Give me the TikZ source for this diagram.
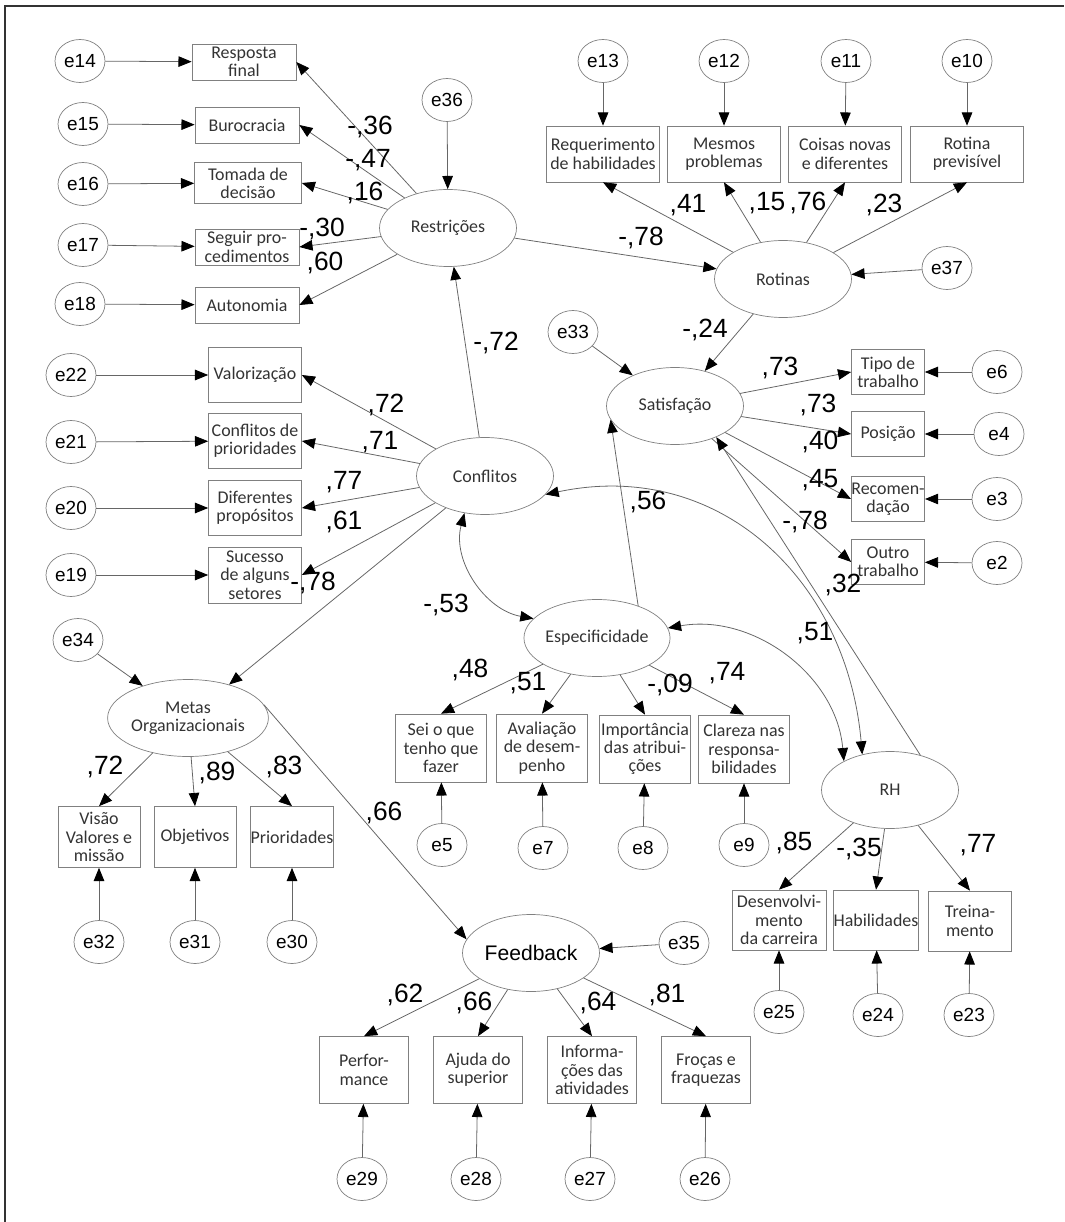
\documentclass[tikz,border=0pt]{standalone}
\usepackage{fontspec}
\usetikzlibrary{shapes.geometric,arrows.meta}
\newfontfamily\carlfont{Carlito}
\newfontfamily\arialfont{Liberation Sans}
\newcommand{\obsfont}{\carlfont\fontsize{10.2}{10.4}\selectfont}
\newcommand{\errfont}{\arialfont\fontsize{10.8}{12}\selectfont}
\newcommand{\coeffont}{\arialfont\fontsize{15}{17}\selectfont}
\newcommand{\fbfont}{\arialfont\fontsize{12}{14}\selectfont}
\definecolor{linegray}{gray}{0.4}
\definecolor{bordergray}{gray}{0.5}
\definecolor{textgray}{gray}{0.2}
\begin{document}
\begin{tikzpicture}[x=0.02cm,y=-0.02cm,
  err/.style={ellipse,draw=bordergray,minimum width=1cm,minimum height=0.86cm,inner sep=0pt,font=\errfont},
  lat/.style={ellipse,draw=bordergray,minimum width=2.74cm,minimum height=1.54cm,inner sep=0pt,align=center,font=\obsfont,text=textgray},
  obs/.style={rectangle,draw=bordergray,inner sep=0pt,align=center,font=\obsfont,text=textgray},
  restrbox/.style={obs,minimum width=2.08cm,minimum height=0.72cm},
  rotbox/.style={obs,minimum width=2.26cm,minimum height=1.12cm},
  confbox/.style={obs,minimum width=1.86cm,minimum height=1.1cm},
  satbox/.style={obs,minimum width=1.46cm,minimum height=0.9cm},
  espbox/.style={obs,minimum width=1.82cm,minimum height=1.36cm},
  metbox/.style={obs,minimum width=1.64cm,minimum height=1.22cm},
  fbbox/.style={obs,minimum width=1.78cm,minimum height=1.34cm},
  rhbox/.style={obs,minimum height=1.2cm},
  reg/.style={draw=linegray,line width=0.45pt,-{Triangle[length=7.5pt,width=6pt,color=black]}},
  cov/.style={draw=linegray,line width=0.45pt,{Triangle[length=7.5pt,width=6pt,color=black]}-{Triangle[length=7.5pt,width=6pt,color=black]}},
  coef/.style={font=\coeffont,inner sep=0pt}]
\useasboundingbox (0,0) rectangle (1064,1222);
\draw[black!80,line width=0.7pt] (5,1222) -- (5,6) -- (1064,6);

%restricoes
        \node[err] (e14) at (80,61) {e14};
        \node[err] (e15) at (83,124) {e15};
        \node[err] (e16) at (83,184) {e16};
        \node[err] (e17) at (83,245) {e17};
        \node[err] (e18) at (80,304) {e18};
        \node[restrbox] (resp) at (244,62) {Resposta\\final};
        \node[restrbox] (buro) at (247,125) {Burocracia};
        \node[restrbox,minimum width=2.14cm,minimum height=0.82cm] (toma) at (248,183) {Tomada de\\decisão};
        \node[restrbox] (segu) at (247,247) {Seguir pro-\\cedimentos};
        \node[restrbox] (auto) at (247,305) {Autonomia};
        \node[err] (e36) at (447,100) {e36};
        \node[lat] (restr) at (448,228) {Restrições};
        \draw [reg] (e14) -- (resp);
        \draw [reg] (e15) -- (buro);
        \draw [reg] (e16) -- (toma);
        \draw [reg] (e17) -- (segu);
        \draw [reg] (e18) -- (auto);
        \draw [reg] (restr) -- (resp.east);
        \draw [reg] (restr) -- (buro.east);
        \draw [reg] (restr) -- (toma.east);
        \draw [reg] (restr) -- (segu.east);
        \draw [reg] (restr) -- (auto.east);
        \draw [reg] (e36) -- (restr);
        \node[coef] at (370,127) {-,36};
        \node[coef] at (368,160) {-,47};
        \node[coef] at (365,193) {,16};
        \node[coef] at (322,229) {-,30};
        \node[coef] at (325,263) {,60};

%rotinas
        \node[err] (e13) at (603,61) {e13};
        \node[err] (e12) at (724,61) {e12};
        \node[err] (e11) at (846,61) {e11};
        \node[err] (e10) at (967,61) {e10};
        \node[rotbox] (requ) at (603,154) {Requerimento\\de habilidades};
        \node[rotbox] (mesm) at (724,154) {Mesmos\\problemas};
        \node[rotbox] (cois) at (845,154) {Coisas novas\\e diferentes};
        \node[rotbox] (prev) at (967,154) {Rotina\\previsível};
        \node[lat] (rot) at (783,279) {Rotinas};
        \node[err] (e37) at (947,268) {e37};
        \draw [reg] (e13) -- (requ);
        \draw [reg] (e12) -- (mesm);
        \draw [reg] (e11) -- (cois);
        \draw [reg] (e10) -- (prev);
        \draw [reg] (rot) -- (requ.south);
        \draw [reg] (rot) -- (mesm.south);
        \draw [reg] (rot) -- (cois.south);
        \draw [reg] (rot) -- (prev.south);
        \draw [reg] (e37) -- (rot);
        \draw [reg] (restr) -- (rot);
        \node[coef] at (688,205) {,41};
        \node[coef] at (767,203) {,15};
        \node[coef] at (808,203) {,76};
        \node[coef] at (884,205) {,23};
        \node[coef] at (641,238) {-,78};

%conflitos
        \node[err] (e22) at (71,375) {e22};
        \node[err] (e21) at (71,442) {e21};
        \node[err] (e20) at (71,508) {e20};
        \node[err] (e19) at (71,575) {e19};
        \node[confbox] (valo) at (255,375) {Valorização};
        \node[confbox] (cpri) at (255,441) {Conflitos de\\prioridades};
        \node[confbox] (dife) at (255,508) {Diferentes\\propósitos};
        \node[confbox,minimum height=1.12cm] (suce) at (255,575) {Sucesso\\de alguns\\setores};
        \node[lat] (conf) at (485,476) {Conflitos};
        \draw [reg] (e22) -- (valo);
        \draw [reg] (e21) -- (cpri);
        \draw [reg] (e20) -- (dife);
        \draw [reg] (e19) -- (suce);
        \draw [reg] (conf) -- (valo.east);
        \draw [reg] (conf) -- (cpri.east);
        \draw [reg] (conf) -- (dife.east);
        \draw [reg] (conf) -- (suce.east);
        \draw [reg] (conf) -- (restr);
        \node[coef] at (496,343) {-,72};
        \node[coef] at (386,405) {,72};
        \node[coef] at (380,442) {,71};
        \node[coef] at (344,482) {,77};
        \node[coef] at (344,522) {,61};
        \node[coef] at (313,583) {-,78};

%satisfacao
        \node[err] (e33) at (573,332) {e33};
        \node[lat] (sat) at (675,406) {Satisfação};
        \node[satbox] (tipo) at (888,372) {Tipo de\\trabalho};
        \node[satbox] (posi) at (888,434) {Posição};
        \node[satbox] (reco) at (888,499) {Recomen-\\dação};
        \node[satbox] (outr) at (888,562) {Outro\\trabalho};
        \node[err] (e6) at (997,372) {e6};
        \node[err] (e4) at (999,434) {e4};
        \node[err] (e3) at (997,499) {e3};
        \node[err] (e2) at (997,563) {e2};
        \draw [reg] (rot) -- (sat);
        \draw [reg] (e33) -- (sat);
        \draw [reg] (sat) -- (tipo.west);
        \draw [reg] (sat) -- (posi.west);
        \draw [reg] (sat) -- (reco.west);
        \draw [reg] (sat) -- (outr.west);
        \draw [reg] (e6) -- (tipo);
        \draw [reg] (e4) -- (posi);
        \draw [reg] (e3) -- (reco);
        \draw [reg] (e2) -- (outr);
        \node[coef] at (705,330) {-,24};
        \node[coef] at (780,368) {,73};
        \node[coef] at (818,405) {,73};
        \node[coef] at (820,442) {,40};
        \node[coef] at (820,480) {,45};
        \node[coef] at (805,522) {-,78};

%especificidade
        \node[lat] (esp) at (597,638) {Especificidade};
        \node[espbox] (sei) at (441,748) {Sei o que\\tenho que\\fazer};
        \node[espbox] (aval) at (542,748) {Avaliação\\de desem-\\penho};
        \node[espbox] (impo) at (645,749) {Importância\\das atribui-\\ções};
        \node[espbox] (clar) at (744,749) {Clareza nas\\responsa-\\bilidades};
        \node[err] (e5) at (442,845) {e5};
        \node[err] (e7) at (543,848) {e7};
        \node[err] (e8) at (643,848) {e8};
        \node[err] (e9) at (744,845) {e9};
        \draw [reg] (esp) -- (sei.north);
        \draw [reg] (esp) -- (aval.north);
        \draw [reg] (esp) -- (impo.north);
        \draw [reg] (esp) -- (clar.north);
        \draw [reg] (e5) -- (sei);
        \draw [reg] (e7) -- (aval);
        \draw [reg] (e8) -- (impo);
        \draw [reg] (e9) -- (clar);
        \draw [reg] (esp.38) -- (sat.192);
        \node[coef] at (648,502) {,56};
        \node[coef] at (470,670) {,48};
        \node[coef] at (528,683) {,51};
        \node[coef] at (670,685) {-,09};
        \node[coef] at (727,673) {,74};

%rh
        \node[lat] (rh) at (890,790) {RH};
        \node[rhbox,minimum width=1.88cm] (desv) at (779,920) {Desenvolvi-\\mento\\da carreira};
        \node[rhbox,minimum width=1.64cm] (habi) at (876,920) {Habilidades};
        \node[rhbox,minimum width=1.66cm] (trei) at (970,921) {Treina-\\mento};
        \node[err] (e25) at (779,1012) {e25};
        \node[err] (e24) at (878,1015) {e24};
        \node[err] (e23) at (969,1015) {e23};
        \draw [reg] (rh) -- (desv.north);
        \draw [reg] (rh) -- (habi.north);
        \draw [reg] (rh) -- (trei.north);
        \draw [reg] (e25) -- (desv);
        \draw [reg] (e24) -- (habi);
        \draw [reg] (e23) -- (trei);
        \draw [reg] (rh.49) -- (sat.323);
        \node[coef] at (794,843) {,85};
        \node[coef] at (859,849) {-,35};
        \node[coef] at (978,845) {,77};

%covariances
        \draw [cov] (conf.241) to[out=255,in=170] (esp.163);
        \draw [cov] (conf.343) to[out=12,in=95,looseness=1.1] (rh.128);
        \draw [cov] (esp.8) to[out=10,in=95] (rh.148);
        \node[coef] at (446,605) {-,53};
        \node[coef] at (843,585) {,32};
        \node[coef] at (815,633) {,51};

%metas
        \node[err] (e34) at (78,640) {e34};
        \node[lat] (metas) at (188,718) {Metas\\Organizacionais};
        \node[metbox] (visa) at (99,837) {Visão\\Valores e\\missão};
        \node[metbox] (obje) at (195,837) {Objetivos};
        \node[metbox] (prio) at (292,837) {Prioridades};
        \node[err] (e32) at (99,942) {e32};
        \node[err] (e31) at (195,942) {e31};
        \node[err] (e30) at (292,942) {e30};
        \draw [reg] (conf) -- (metas);
        \draw [reg] (e34) -- (metas);
        \draw [reg] (metas) -- (visa.north);
        \draw [reg] (metas) -- (obje.north);
        \draw [reg] (metas) -- (prio.north);
        \draw [reg] (e32) -- (visa);
        \draw [reg] (e31) -- (obje);
        \draw [reg] (e30) -- (prio);
        \node[coef] at (105,767) {,72};
        \node[coef] at (217,773) {,89};
        \node[coef] at (284,767) {,83};

%feedback
        \node[lat,font=\fbfont,text=black] (fb) at (531,953) {Feedback};
        \node[err] (e35) at (684,943) {e35};
        \node[fbbox] (perf) at (364,1070) {Perfor-\\mance};
        \node[fbbox] (ajud) at (478,1070) {Ajuda do\\superior};
        \node[fbbox] (info) at (592,1070) {Informa-\\ções das\\atividades};
        \node[fbbox] (froc) at (706,1070) {Froças e\\fraquezas};
        \node[err] (e29) at (362,1179) {e29};
        \node[err] (e28) at (476,1179) {e28};
        \node[err] (e27) at (590,1179) {e27};
        \node[err] (e26) at (705,1179) {e26};
        \draw [reg] (metas.10) -- (fb.168);
        \draw [reg] (e35) -- (fb);
        \draw [reg] (fb) -- (perf.north);
        \draw [reg] (fb) -- (ajud.north);
        \draw [reg] (fb) -- (info.north);
        \draw [reg] (fb) -- (froc.north);
        \draw [reg] (e29) -- (perf);
        \draw [reg] (e28) -- (ajud);
        \draw [reg] (e27) -- (info);
        \draw [reg] (e26) -- (froc);
        \node[coef] at (384,813) {,66};
        \node[coef] at (405,995) {,62};
        \node[coef] at (474,1003) {,66};
        \node[coef] at (598,1003) {,64};
        \node[coef] at (667,995) {,81};
\end{tikzpicture}
\end{document}
